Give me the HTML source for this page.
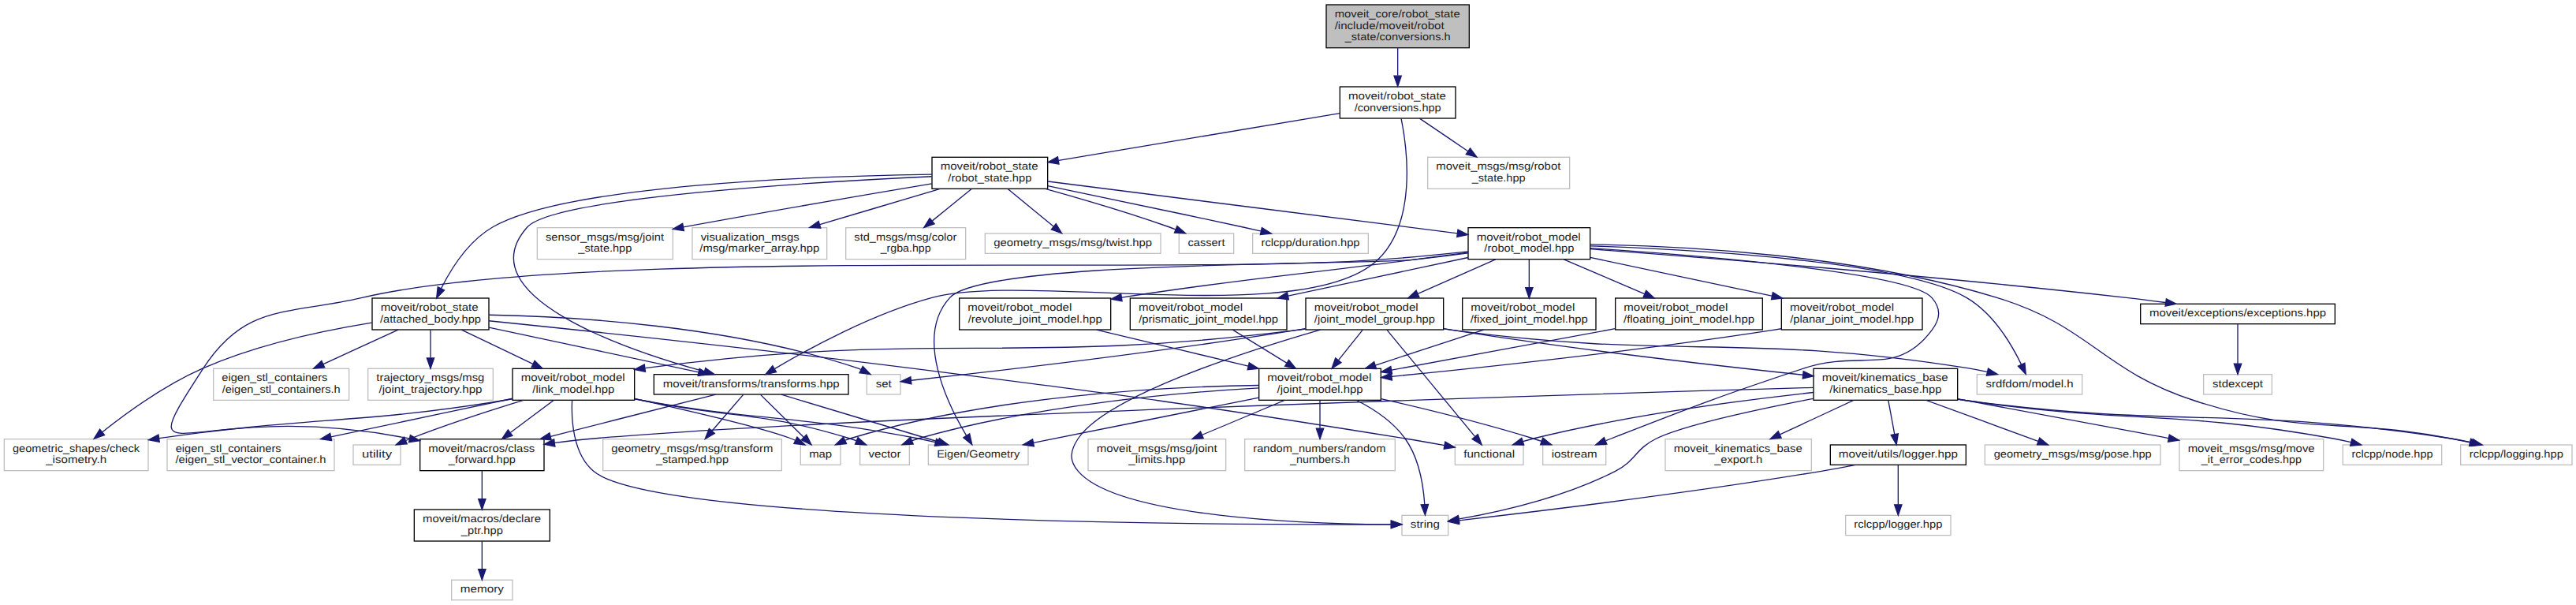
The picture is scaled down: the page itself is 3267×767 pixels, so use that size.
<!DOCTYPE html>
<html><head><meta charset="utf-8"><title>moveit_core/robot_state/include/moveit/robot_state/conversions.h</title>
<style>
html,body{margin:0;padding:0;background:#ffffff;width:3267px;height:767px;overflow:hidden}
svg{display:block}
text{font-family:"Liberation Sans",sans-serif;font-size:10.1px;fill:#222222;text-rendering:geometricPrecision}

rect.k{fill:#ffffff;stroke:#000000}
rect.g{fill:#ffffff;stroke:#bfbfbf}
rect.root{fill:#bfbfbf;stroke:#000000}
path{fill:none;stroke:#191970}
polygon{fill:#191970;stroke:#191970}
</style></head><body>
<svg width="3267" height="767" viewBox="0 0 2450.25 575.25">
<g transform="translate(4 571)">
<rect class="root" x="1257.5" y="-566.5" width="136" height="41"/>
<text x="1265.5" y="-554.5" textLength="119.25" lengthAdjust="spacingAndGlyphs">moveit_core/robot_state</text>
<text x="1265.5" y="-543.5" textLength="104.25" lengthAdjust="spacingAndGlyphs">/include/moveit/robot</text>
<text x="1325.5" y="-532.5" textLength="100.50" lengthAdjust="spacingAndGlyphs" text-anchor="middle">_state/conversions.h</text>
<rect class="k" x="1270.5" y="-488.5" width="110" height="30"/>
<text x="1278.5" y="-476.5" textLength="93.00" lengthAdjust="spacingAndGlyphs">moveit/robot_state</text>
<text x="1325.5" y="-465.5" textLength="82.50" lengthAdjust="spacingAndGlyphs" text-anchor="middle">/conversions.hpp</text>
<path d="M1325.5,-525.36C1325.5,-517.23 1325.5,-507.7 1325.5,-499.11"/>
<polygon points="1329,-498.89 1325.5,-488.89 1322,-498.89 1329,-498.89"/>
<rect class="k" x="882.5" y="-421.5" width="110" height="30"/>
<text x="890.5" y="-409.5" textLength="93.00" lengthAdjust="spacingAndGlyphs">moveit/robot_state</text>
<text x="937.5" y="-398.5" textLength="79.50" lengthAdjust="spacingAndGlyphs" text-anchor="middle">/robot_state.hpp</text>
<path d="M1270.32,-463.26C1199.88,-451.46 1078.18,-431.07 1003.08,-418.49"/>
<polygon points="1003.24,-414.96 992.8,-416.76 1002.09,-421.87 1003.24,-414.96"/>
<rect class="k" x="618" y="-215" width="185" height="19"/>
<text x="710.5" y="-203" textLength="168.00" lengthAdjust="spacingAndGlyphs" text-anchor="middle">moveit/transforms/transforms.hpp</text>
<path d="M1328.83,-458.12C1334.79,-428.27 1343.47,-359.43 1306.5,-324 1238.23,-258.57 973.79,-312.64 882.5,-288 825.83,-272.71 765,-239.4 733.06,-220.44"/>
<polygon points="734.48,-217.21 724.11,-215.05 730.87,-223.21 734.48,-217.21"/>
<rect class="g" x="1354" y="-421.5" width="135" height="30"/>
<text x="1362" y="-409.5" textLength="118.50" lengthAdjust="spacingAndGlyphs">moveit_msgs/msg/robot</text>
<text x="1421.5" y="-398.5" textLength="51.00" lengthAdjust="spacingAndGlyphs" text-anchor="middle">_state.hpp</text>
<path d="M1346.33,-458.4C1359.79,-449.28 1377.5,-437.29 1392.35,-427.24"/>
<polygon points="1394.39,-430.08 1400.71,-421.58 1390.47,-424.28 1394.39,-430.08"/>
<rect class="k" x="1392.5" y="-354.5" width="116" height="30"/>
<text x="1400.5" y="-342.5" textLength="99.00" lengthAdjust="spacingAndGlyphs">moveit/robot_model</text>
<text x="1450.5" y="-331.5" textLength="85.50" lengthAdjust="spacingAndGlyphs" text-anchor="middle">/robot_model.hpp</text>
<path d="M992.89,-398.48C1087.41,-386.51 1279.6,-362.15 1382.25,-349.15"/>
<polygon points="1382.72,-352.62 1392.21,-347.89 1381.84,-345.67 1382.72,-352.62"/>
<rect class="k" x="350" y="-287.5" width="111" height="30"/>
<text x="358" y="-275.5" textLength="93.00" lengthAdjust="spacingAndGlyphs">moveit/robot_state</text>
<text x="405.5" y="-264.5" textLength="96.00" lengthAdjust="spacingAndGlyphs" text-anchor="middle">/attached_body.hpp</text>
<path d="M882.44,-405.15C773.36,-403.58 534.34,-395.48 464.5,-355 441.72,-341.8 425.31,-315.89 415.67,-296.81"/>
<polygon points="418.72,-295.08 411.25,-287.56 412.4,-298.1 418.72,-295.08"/>
<path d="M882.18,-403.19C769.68,-397.93 522.7,-383.26 497.5,-355 440.07,-290.6 587.59,-239.49 665.69,-217.79"/>
<polygon points="667.04,-221.05 675.77,-215.05 665.2,-214.3 667.04,-221.05"/>
<rect class="g" x="507" y="-354.5" width="129" height="30"/>
<text x="515" y="-342.5" textLength="112.50" lengthAdjust="spacingAndGlyphs">sensor_msgs/msg/joint</text>
<text x="571.5" y="-331.5" textLength="51.00" lengthAdjust="spacingAndGlyphs" text-anchor="middle">_state.hpp</text>
<path d="M882.27,-396.32C825.63,-386.83 734.71,-371.35 646.02,-355.07"/>
<polygon points="646.53,-351.61 636.06,-353.24 645.26,-358.49 646.53,-351.61"/>
<rect class="g" x="654.5" y="-354.5" width="128" height="30"/>
<text x="662.5" y="-342.5" textLength="93.75" lengthAdjust="spacingAndGlyphs">visualization_msgs</text>
<text x="718.5" y="-331.5" textLength="114.00" lengthAdjust="spacingAndGlyphs" text-anchor="middle">/msg/marker_array.hpp</text>
<path d="M890.25,-391.48C856.69,-381.51 811.44,-368.09 775.82,-357.51"/>
<polygon points="776.63,-354.1 766.04,-354.61 774.63,-360.81 776.63,-354.1"/>
<rect class="g" x="800.5" y="-354.5" width="114" height="30"/>
<text x="808.5" y="-342.5" textLength="97.50" lengthAdjust="spacingAndGlyphs">std_msgs/msg/color</text>
<text x="857.5" y="-331.5" textLength="48.00" lengthAdjust="spacingAndGlyphs" text-anchor="middle">_rgba.hpp</text>
<path d="M920.14,-391.4C909.24,-382.54 894.99,-370.96 882.84,-361.09"/>
<polygon points="884.79,-358.17 874.82,-354.58 880.38,-363.6 884.79,-358.17"/>
<rect class="g" x="933" y="-349" width="167" height="19"/>
<text x="1016.5" y="-337" textLength="150.75" lengthAdjust="spacingAndGlyphs" text-anchor="middle">geometry_msgs/msg/twist.hpp</text>
<path d="M954.64,-391.4C967.45,-380.86 984.93,-366.48 998.04,-355.69"/>
<polygon points="1000.43,-358.25 1005.93,-349.19 995.99,-352.85 1000.43,-358.25"/>
<rect class="g" x="1117.5" y="-349" width="52" height="19"/>
<text x="1143.5" y="-337" textLength="35.25" lengthAdjust="spacingAndGlyphs" text-anchor="middle">cassert</text>
<path d="M990.35,-391.45C1024.38,-382.02 1069.39,-368.83 1108.5,-355 1110.36,-354.34 1112.27,-353.64 1114.18,-352.91"/>
<polygon points="1115.65,-356.09 1123.65,-349.15 1113.07,-349.59 1115.65,-356.09"/>
<rect class="g" x="1187.5" y="-349" width="110" height="19"/>
<text x="1242.5" y="-337" textLength="93.75" lengthAdjust="spacingAndGlyphs" text-anchor="middle">rclcpp/duration.hpp</text>
<path d="M992.59,-394.22C1041.47,-384.15 1114.8,-368.89 1178.5,-355 1183.93,-353.82 1189.61,-352.56 1195.25,-351.3"/>
<polygon points="1196.31,-354.65 1205.3,-349.04 1194.77,-347.82 1196.31,-354.65"/>
<rect class="k" x="395.5" y="-153.5" width="118" height="30"/>
<text x="403.5" y="-141.5" textLength="101.25" lengthAdjust="spacingAndGlyphs">moveit/macros/class</text>
<text x="454.5" y="-130.5" textLength="63.75" lengthAdjust="spacingAndGlyphs" text-anchor="middle">_forward.hpp</text>
<path d="M1392.42,-331.81C1366.2,-329.01 1334.83,-325.95 1306.5,-324 1092.19,-309.23 549.78,-336.44 340.5,-288 268.97,-271.45 229.53,-282.55 189.5,-221 114.29,-105.34 176.88,-195.07 385.5,-154 385.6,-153.98 385.7,-153.96 385.8,-153.94"/>
<polygon points="386.3,-157.41 395.43,-152.02 384.93,-150.55 386.3,-157.41"/>
<rect class="k" x="2032" y="-282" width="185" height="19"/>
<text x="2124.5" y="-270" textLength="168.00" lengthAdjust="spacingAndGlyphs" text-anchor="middle">moveit/exceptions/exceptions.hpp</text>
<path d="M1508.65,-334.24C1611.58,-326.5 1832.57,-308.97 2018.5,-288 2030.54,-286.64 2043.33,-285.03 2055.7,-283.39"/>
<polygon points="2056.52,-286.81 2065.97,-282.01 2055.59,-279.88 2056.52,-286.81"/>
<rect class="g" x="1876.5" y="-215" width="100" height="19"/>
<text x="1926.5" y="-203" textLength="83.25" lengthAdjust="spacingAndGlyphs" text-anchor="middle">srdfdom/model.h</text>
<path d="M1508.87,-337.06C1608.68,-333.67 1807.13,-322.67 1866.5,-288 1891.58,-273.36 1909.29,-243.65 1918.69,-224.43"/>
<polygon points="1921.92,-225.78 1922.94,-215.23 1915.57,-222.84 1921.92,-225.78"/>
<rect class="k" x="1238" y="-287.5" width="131" height="30"/>
<text x="1246" y="-275.5" textLength="99.00" lengthAdjust="spacingAndGlyphs">moveit/robot_model</text>
<text x="1303.5" y="-264.5" textLength="114.75" lengthAdjust="spacingAndGlyphs" text-anchor="middle">/joint_model_group.hpp</text>
<path d="M1418.6,-324.4C1396.93,-314.81 1368.07,-302.05 1344.66,-291.7"/>
<polygon points="1345.9,-288.42 1335.33,-287.58 1343.06,-294.82 1345.9,-288.42"/>
<rect class="g" x="1463.5" y="-148" width="60" height="19"/>
<text x="1493.5" y="-136" textLength="43.50" lengthAdjust="spacingAndGlyphs" text-anchor="middle">iostream</text>
<path d="M1508.75,-334.99C1610.64,-328.25 1812.44,-312.02 1833.5,-288 1842.58,-277.64 1841.74,-268.04 1833.5,-257 1799.96,-212.02 1765.77,-238.61 1712.5,-221 1629.87,-193.69 1609.61,-185.55 1528.5,-154 1526.86,-153.36 1525.17,-152.7 1523.48,-152.02"/>
<polygon points="1524.38,-148.61 1513.8,-148.08 1521.74,-155.09 1524.38,-148.61"/>
<rect class="g" x="879" y="-148" width="95" height="19"/>
<text x="926.5" y="-136" textLength="78.75" lengthAdjust="spacingAndGlyphs" text-anchor="middle">Eigen/Geometry</text>
<path d="M1392.38,-330.37C1375.36,-328.13 1356.7,-325.83 1339.5,-324 1290.72,-318.82 932.74,-324.07 899.5,-288 865.85,-251.49 896.81,-187.66 915.17,-156.97"/>
<polygon points="918.28,-158.58 920.59,-148.24 912.34,-154.89 918.28,-158.58"/>
<rect class="g" x="2336.5" y="-148" width="106" height="19"/>
<text x="2389.5" y="-136" textLength="89.25" lengthAdjust="spacingAndGlyphs" text-anchor="middle">rclcpp/logging.hpp</text>
<path d="M1508.77,-338.62C1595.11,-337.31 1761.29,-329.04 1895.5,-288 1985.61,-260.45 1993.87,-219.06 2083.5,-190 2187.78,-156.19 2219.82,-174.5 2327.5,-154 2333.27,-152.9 2339.32,-151.63 2345.29,-150.31"/>
<polygon points="2346.2,-153.7 2355.17,-148.07 2344.65,-146.87 2346.2,-153.7"/>
<rect class="k" x="1387" y="-287.5" width="127" height="30"/>
<text x="1395" y="-275.5" textLength="99.00" lengthAdjust="spacingAndGlyphs">moveit/robot_model</text>
<text x="1450.5" y="-264.5" textLength="111.75" lengthAdjust="spacingAndGlyphs" text-anchor="middle">/fixed_joint_model.hpp</text>
<path d="M1450.5,-324.4C1450.5,-316.64 1450.5,-306.81 1450.5,-297.86"/>
<polygon points="1454,-297.58 1450.5,-287.58 1447,-297.58 1454,-297.58"/>
<rect class="k" x="1532.5" y="-287.5" width="140" height="30"/>
<text x="1540.5" y="-275.5" textLength="99.00" lengthAdjust="spacingAndGlyphs">moveit/robot_model</text>
<text x="1602.5" y="-264.5" textLength="124.50" lengthAdjust="spacingAndGlyphs" text-anchor="middle">/floating_joint_model.hpp</text>
<path d="M1483.48,-324.4C1505.99,-314.77 1536,-301.94 1560.26,-291.56"/>
<polygon points="1561.76,-294.73 1569.58,-287.58 1559.01,-288.29 1561.76,-294.73"/>
<rect class="k" x="1690.5" y="-287.5" width="134" height="30"/>
<text x="1698.5" y="-275.5" textLength="99.00" lengthAdjust="spacingAndGlyphs">moveit/robot_model</text>
<text x="1757.5" y="-264.5" textLength="117.75" lengthAdjust="spacingAndGlyphs" text-anchor="middle">/planar_joint_model.hpp</text>
<path d="M1508.61,-326.2C1557.52,-315.84 1627.84,-300.95 1681.26,-289.64"/>
<polygon points="1682.31,-293 1691.37,-287.5 1680.86,-286.15 1682.31,-293"/>
<rect class="k" x="908.5" y="-287.5" width="144" height="30"/>
<text x="916.5" y="-275.5" textLength="99.00" lengthAdjust="spacingAndGlyphs">moveit/robot_model</text>
<text x="980.5" y="-264.5" textLength="127.50" lengthAdjust="spacingAndGlyphs" text-anchor="middle">/revolute_joint_model.hpp</text>
<path d="M1392.32,-330.89C1375.29,-328.66 1356.65,-326.23 1339.5,-324 1219.21,-308.35 1186.35,-307.04 1063.11,-288.21"/>
<polygon points="1063.31,-284.7 1052.89,-286.64 1062.25,-291.62 1063.31,-284.7"/>
<rect class="k" x="1071" y="-287.5" width="149" height="30"/>
<text x="1079" y="-275.5" textLength="99.00" lengthAdjust="spacingAndGlyphs">moveit/robot_model</text>
<text x="1145.5" y="-264.5" textLength="132.75" lengthAdjust="spacingAndGlyphs" text-anchor="middle">/prismatic_joint_model.hpp</text>
<path d="M1392.41,-326.12C1343.86,-315.77 1274.27,-300.94 1221.33,-289.66"/>
<polygon points="1221.82,-286.19 1211.31,-287.53 1220.36,-293.03 1221.82,-286.19"/>
<rect class="k" x="390" y="-86.5" width="129" height="30"/>
<text x="398" y="-74.5" textLength="112.50" lengthAdjust="spacingAndGlyphs">moveit/macros/declare</text>
<text x="454.5" y="-63.5" textLength="39.75" lengthAdjust="spacingAndGlyphs" text-anchor="middle">_ptr.hpp</text>
<path d="M454.5,-123.4C454.5,-115.64 454.5,-105.81 454.5,-96.86"/>
<polygon points="458,-96.58 454.5,-86.58 451,-96.58 458,-96.58"/>
<rect class="g" x="425.5" y="-19.5" width="58" height="19"/>
<text x="454.5" y="-7.5" textLength="41.25" lengthAdjust="spacingAndGlyphs" text-anchor="middle">memory</text>
<path d="M454.5,-56.4C454.5,-48.47 454.5,-38.46 454.5,-29.86"/>
<polygon points="458,-29.66 454.5,-19.66 451,-29.66 458,-29.66"/>
<rect class="g" x="2092" y="-215" width="65" height="19"/>
<text x="2124.5" y="-203" textLength="48.00" lengthAdjust="spacingAndGlyphs" text-anchor="middle">stdexcept</text>
<path d="M2124.5,-262.73C2124.5,-253.18 2124.5,-237.62 2124.5,-225.28"/>
<polygon points="2128,-225.13 2124.5,-215.13 2121,-225.13 2128,-225.13"/>
<path d="M1369.28,-258.33C1372.39,-257.85 1375.48,-257.4 1378.5,-257 1594.52,-228.27 1652.27,-255.12 1867.5,-221 1873.51,-220.05 1879.8,-218.79 1885.95,-217.41"/>
<polygon points="1887.15,-220.72 1896.08,-215.01 1885.54,-213.91 1887.15,-220.72"/>
<rect class="k" x="1193.5" y="-220.5" width="116" height="30"/>
<text x="1201.5" y="-208.5" textLength="99.00" lengthAdjust="spacingAndGlyphs">moveit/robot_model</text>
<text x="1251.5" y="-197.5" textLength="81.75" lengthAdjust="spacingAndGlyphs" text-anchor="middle">/joint_model.hpp</text>
<path d="M1292.22,-257.4C1285.47,-248.96 1276.75,-238.07 1269.12,-228.52"/>
<polygon points="1271.74,-226.2 1262.76,-220.58 1266.28,-230.57 1271.74,-226.2"/>
<rect class="g" x="1329.5" y="-81" width="44" height="19"/>
<text x="1351.5" y="-69" textLength="27.75" lengthAdjust="spacingAndGlyphs" text-anchor="middle">string</text>
<path d="M1251.93,-257.44C1178.07,-236.14 1048.13,-193.94 1021.5,-154 1013.86,-142.54 1012.52,-133.45 1021.5,-123 1059.65,-78.57 1243.17,-72.82 1318.81,-72.36"/>
<polygon points="1319.16,-75.86 1329.15,-72.33 1319.14,-68.86 1319.16,-75.86"/>
<rect class="k" x="483.5" y="-220.5" width="116" height="30"/>
<text x="491.5" y="-208.5" textLength="99.00" lengthAdjust="spacingAndGlyphs">moveit/robot_model</text>
<text x="541.5" y="-197.5" textLength="78.00" lengthAdjust="spacingAndGlyphs" text-anchor="middle">/link_model.hpp</text>
<path d="M1237.73,-258.27C1234.61,-257.81 1231.53,-257.38 1228.5,-257 957.96,-223.15 883.79,-257.45 609.76,-221.01"/>
<polygon points="609.89,-217.5 599.51,-219.63 608.95,-224.44 609.89,-217.5"/>
<rect class="k" x="1721" y="-220.5" width="137" height="30"/>
<text x="1729" y="-208.5" textLength="120.00" lengthAdjust="spacingAndGlyphs">moveit/kinematics_base</text>
<text x="1789.5" y="-197.5" textLength="106.50" lengthAdjust="spacingAndGlyphs" text-anchor="middle">/kinematics_base.hpp</text>
<path d="M1369.31,-258.51C1372.41,-257.98 1375.49,-257.48 1378.5,-257 1493.7,-238.81 1627.95,-223.39 1710.84,-214.54"/>
<polygon points="1711.37,-218 1720.94,-213.47 1710.63,-211.04 1711.37,-218"/>
<rect class="g" x="1380" y="-148" width="65" height="19"/>
<text x="1412.5" y="-136" textLength="48.75" lengthAdjust="spacingAndGlyphs" text-anchor="middle">functional</text>
<path d="M1315.16,-257.37C1335.49,-232.76 1377.3,-182.12 1398.91,-155.96"/>
<polygon points="1401.73,-158.04 1405.4,-148.1 1396.33,-153.58 1401.73,-158.04"/>
<rect class="g" x="820.5" y="-215" width="32" height="19"/>
<text x="836.5" y="-203" textLength="15.00" lengthAdjust="spacingAndGlyphs" text-anchor="middle">set</text>
<path d="M1237.69,-258.53C1234.59,-258 1231.51,-257.48 1228.5,-257 1091.41,-234.94 926.13,-216.2 862.87,-209.32"/>
<polygon points="862.93,-205.8 852.61,-208.21 862.17,-212.76 862.93,-205.8"/>
<path d="M1286.4,-190.37C1302.71,-182.08 1321.02,-170.04 1332.5,-154 1345.75,-135.49 1349.9,-109.11 1351.12,-91.42"/>
<polygon points="1354.63,-91.37 1351.57,-81.23 1347.63,-91.07 1354.63,-91.37"/>
<rect class="g" x="814" y="-148" width="47" height="19"/>
<text x="837.5" y="-136" textLength="30.75" lengthAdjust="spacingAndGlyphs" text-anchor="middle">vector</text>
<path d="M1193.48,-202.12C1117.67,-197.83 981.42,-185.99 869.5,-154 867.56,-153.45 865.6,-152.8 863.64,-152.08"/>
<polygon points="864.67,-148.72 854.09,-148.13 861.99,-155.19 864.67,-148.72"/>
<rect class="g" x="757.5" y="-148" width="38" height="19"/>
<text x="776.5" y="-136" textLength="21.75" lengthAdjust="spacingAndGlyphs" text-anchor="middle">map</text>
<path d="M1193.35,-204.62C1106.73,-203.32 939.56,-195.06 804.5,-154 803.03,-153.55 801.54,-153.03 800.06,-152.45"/>
<polygon points="801.15,-149.1 790.61,-148.08 798.21,-155.45 801.15,-149.1"/>
<path d="M1309.73,-191.84C1350.57,-182.52 1406.27,-168.91 1454.5,-154 1457.06,-153.21 1459.71,-152.34 1462.35,-151.43"/>
<polygon points="1463.54,-154.72 1471.78,-148.06 1461.19,-148.13 1463.54,-154.72"/>
<rect class="g" x="1031" y="-153.5" width="131" height="30"/>
<text x="1039" y="-141.5" textLength="114.75" lengthAdjust="spacingAndGlyphs">moveit_msgs/msg/joint</text>
<text x="1096.5" y="-130.5" textLength="54.00" lengthAdjust="spacingAndGlyphs" text-anchor="middle">_limits.hpp</text>
<path d="M1217.87,-190.4C1194.92,-180.77 1164.31,-167.94 1139.58,-157.56"/>
<polygon points="1140.64,-154.22 1130.07,-153.58 1137.94,-160.67 1140.64,-154.22"/>
<rect class="g" x="1180" y="-153.5" width="143" height="30"/>
<text x="1188" y="-141.5" textLength="126.00" lengthAdjust="spacingAndGlyphs">random_numbers/random</text>
<text x="1251.5" y="-130.5" textLength="57.00" lengthAdjust="spacingAndGlyphs" text-anchor="middle">_numbers.h</text>
<path d="M1251.5,-190.4C1251.5,-182.64 1251.5,-172.81 1251.5,-163.86"/>
<polygon points="1255,-163.58 1251.5,-153.58 1248,-163.58 1255,-163.58"/>
<path d="M1193.4,-192.88C1132.47,-180.69 1037.59,-161.72 978.89,-149.98"/>
<polygon points="979.58,-146.55 969.08,-148.02 978.2,-153.41 979.58,-146.55"/>
<path d="M522.62,-190.4C510.65,-181.45 494.97,-169.74 481.67,-159.8"/>
<polygon points="483.45,-156.76 473.34,-153.58 479.26,-162.37 483.45,-156.76"/>
<path d="M540.19,-190.44C539.32,-171.85 540.99,-139.53 560.5,-123 619.15,-73.32 1177.95,-71.89 1319.19,-72.33"/>
<polygon points="1319.35,-75.83 1329.37,-72.37 1319.38,-68.83 1319.35,-75.83"/>
<path d="M599.58,-191.81C602.6,-191.19 605.58,-190.58 608.5,-190 695.35,-172.63 719.83,-179.99 804.5,-154 806.43,-153.41 808.4,-152.73 810.36,-152.01"/>
<polygon points="812.03,-155.11 819.98,-148.1 809.39,-148.62 812.03,-155.11"/>
<path d="M599.71,-191.93C650.98,-180.56 721.57,-164.09 748.5,-154 749.74,-153.54 751,-153.03 752.25,-152.49"/>
<polygon points="754.16,-155.46 761.69,-148 751.15,-149.14 754.16,-155.46"/>
<path d="M599.55,-191.65C602.57,-191.07 605.57,-190.52 608.5,-190 723.81,-169.6 754.58,-176.47 869.5,-154 874.69,-152.99 880.11,-151.79 885.46,-150.52"/>
<polygon points="886.7,-153.82 895.58,-148.04 885.03,-147.02 886.7,-153.82"/>
<rect class="g" x="332" y="-148" width="45" height="19"/>
<text x="354.5" y="-136" textLength="28.50" lengthAdjust="spacingAndGlyphs" text-anchor="middle">utility</text>
<path d="M493.88,-190.48C462.97,-181.01 421.99,-167.77 386.5,-154 385.08,-153.45 383.63,-152.87 382.17,-152.26"/>
<polygon points="383.2,-148.89 372.63,-148.13 380.41,-155.32 383.2,-148.89"/>
<rect class="g" x="0" y="-153.5" width="137" height="30"/>
<text x="8" y="-141.5" textLength="120.75" lengthAdjust="spacingAndGlyphs">geometric_shapes/check</text>
<text x="68.5" y="-130.5" textLength="57.75" lengthAdjust="spacingAndGlyphs" text-anchor="middle">_isometry.h</text>
<path d="M483.33,-191.69C480.01,-191.09 476.72,-190.52 473.5,-190 331.97,-167.2 292.32,-175.2 147.46,-154.22"/>
<polygon points="147.71,-150.72 137.3,-152.73 146.69,-157.64 147.71,-150.72"/>
<rect class="g" x="155" y="-153.5" width="159" height="30"/>
<text x="163" y="-141.5" textLength="100.50" lengthAdjust="spacingAndGlyphs">eigen_stl_containers</text>
<text x="234.5" y="-130.5" textLength="143.25" lengthAdjust="spacingAndGlyphs" text-anchor="middle">/eigen_stl_vector_container.h</text>
<path d="M483.26,-192.07C479.96,-191.37 476.69,-190.68 473.5,-190 419.08,-178.45 357.69,-165.48 310.75,-155.57"/>
<polygon points="311.46,-152.15 300.96,-153.51 310.02,-159 311.46,-152.15"/>
<path d="M1720.67,-202.53C1496.47,-195.99 788.5,-174.23 560.5,-154 548.58,-152.94 535.94,-151.5 523.7,-149.93"/>
<polygon points="523.91,-146.43 513.54,-148.59 522.99,-153.37 523.91,-146.43"/>
<path d="M1720.74,-192C1667.14,-181.62 1597.57,-166.58 1571.5,-154 1551.56,-144.38 1552.22,-133.06 1532.5,-123 1483.84,-98.17 1421.38,-84.21 1384.01,-77.53"/>
<polygon points="1384.16,-74.01 1373.71,-75.76 1382.97,-80.91 1384.16,-74.01"/>
<rect class="g" x="1884" y="-148" width="167" height="19"/>
<text x="1967.5" y="-136" textLength="150.00" lengthAdjust="spacingAndGlyphs" text-anchor="middle">geometry_msgs/msg/pose.hpp</text>
<path d="M1828.12,-190.4C1859.91,-178.79 1904.48,-162.51 1934.59,-151.52"/>
<polygon points="1936.01,-154.72 1944.2,-148.01 1933.61,-148.15 1936.01,-154.72"/>
<rect class="g" x="2069" y="-153.5" width="137" height="30"/>
<text x="2077" y="-141.5" textLength="120.75" lengthAdjust="spacingAndGlyphs">moveit_msgs/msg/move</text>
<text x="2137.5" y="-130.5" textLength="95.25" lengthAdjust="spacingAndGlyphs" text-anchor="middle">_it_error_codes.hpp</text>
<path d="M1858,-191.77C1910.44,-182.02 1984.86,-168.16 2058.71,-154.33"/>
<polygon points="2059.47,-157.75 2068.65,-152.47 2058.18,-150.87 2059.47,-157.75"/>
<path d="M1858.34,-191.29C1861.43,-190.83 1864.5,-190.4 1867.5,-190 2070.81,-163.22 2124.85,-185.44 2327.5,-154 2333.88,-153.01 2340.58,-151.72 2347.11,-150.31"/>
<polygon points="2348.2,-153.65 2357.18,-148.04 2346.66,-146.83 2348.2,-153.65"/>
<rect class="g" x="2224.5" y="-148" width="94" height="19"/>
<text x="2271.5" y="-136" textLength="77.25" lengthAdjust="spacingAndGlyphs" text-anchor="middle">rclcpp/node.hpp</text>
<path d="M1858.35,-191.39C1861.44,-190.9 1864.5,-190.43 1867.5,-190 2021.4,-167.77 2062.47,-181.57 2215.5,-154 2220.94,-153.02 2226.62,-151.79 2232.2,-150.47"/>
<polygon points="2233.18,-153.83 2242.04,-148.01 2231.49,-147.04 2233.18,-153.83"/>
<path d="M1720.78,-197.86C1652.55,-190.4 1545.32,-176.32 1454.5,-154 1451.28,-153.21 1447.95,-152.27 1444.65,-151.27"/>
<polygon points="1445.53,-147.87 1434.94,-148.1 1443.36,-154.53 1445.53,-147.87"/>
<rect class="g" x="1580" y="-153.5" width="139" height="30"/>
<text x="1588" y="-141.5" textLength="122.25" lengthAdjust="spacingAndGlyphs">moveit_kinematics_base</text>
<text x="1649.5" y="-130.5" textLength="45.75" lengthAdjust="spacingAndGlyphs" text-anchor="middle">_export.h</text>
<path d="M1759.12,-190.4C1738.57,-180.86 1711.24,-168.16 1689,-157.84"/>
<polygon points="1690.36,-154.61 1679.82,-153.58 1687.41,-160.96 1690.36,-154.61"/>
<rect class="k" x="1737" y="-148" width="129" height="19"/>
<text x="1801.5" y="-136" textLength="113.25" lengthAdjust="spacingAndGlyphs" text-anchor="middle">moveit/utils/logger.hpp</text>
<path d="M1792.1,-190.4C1793.85,-180.96 1796.16,-168.45 1798.05,-158.19"/>
<polygon points="1801.52,-158.66 1799.89,-148.19 1794.64,-157.39 1801.52,-158.66"/>
<path d="M1761.04,-128.99C1750.47,-126.9 1739.08,-124.76 1728.5,-123 1601.38,-101.88 1449.01,-83.62 1383.74,-76.13"/>
<polygon points="1384,-72.63 1373.67,-74.98 1383.21,-79.59 1384,-72.63"/>
<rect class="g" x="1751.5" y="-81" width="100" height="19"/>
<text x="1801.5" y="-69" textLength="84.00" lengthAdjust="spacingAndGlyphs" text-anchor="middle">rclcpp/logger.hpp</text>
<path d="M1801.5,-128.73C1801.5,-119.18 1801.5,-103.62 1801.5,-91.28"/>
<polygon points="1805,-91.13 1801.5,-81.13 1798,-91.13 1805,-91.13"/>
<path d="M1407.32,-257.4C1377.07,-247.52 1336.47,-234.25 1304.29,-223.74"/>
<polygon points="1305.19,-220.35 1294.6,-220.58 1303.01,-227.01 1305.19,-220.35"/>
<path d="M1532.31,-258.5C1470.44,-247.04 1380.85,-230.45 1319.61,-219.11"/>
<polygon points="1320.12,-215.65 1309.65,-217.27 1318.85,-222.53 1320.12,-215.65"/>
<path d="M1690.41,-258.43C1687.4,-257.93 1684.42,-257.45 1681.5,-257 1554.25,-237.41 1404.78,-221.43 1319.79,-213"/>
<polygon points="1320.05,-209.5 1309.75,-212 1319.36,-216.47 1320.05,-209.5"/>
<path d="M1038.97,-257.48C1081.35,-247.31 1138.8,-233.53 1183.28,-222.86"/>
<polygon points="1184.23,-226.23 1193.14,-220.5 1182.59,-219.43 1184.23,-226.23"/>
<path d="M1168.5,-257.4C1183.5,-248.2 1203.29,-236.07 1219.77,-225.95"/>
<polygon points="1221.85,-228.79 1228.54,-220.58 1218.19,-222.82 1221.85,-228.79"/>
<path d="M435.01,-257.4C454.88,-247.9 481.29,-235.28 502.84,-224.98"/>
<polygon points="504.53,-228.05 512.05,-220.58 501.52,-221.73 504.53,-228.05"/>
<path d="M349.59,-264.14C304.91,-256.92 241.39,-243.63 189.5,-221 153.52,-205.31 116.76,-178.75 93.35,-160.23"/>
<polygon points="95.34,-157.34 85.36,-153.81 90.96,-162.8 95.34,-157.34"/>
<path d="M461.02,-265.91C546.94,-257.14 717.29,-239.24 861.5,-221 1071.27,-194.47 1123.77,-187.75 1332.5,-154 1344.69,-152.03 1357.9,-149.71 1370,-147.51"/>
<polygon points="1370.65,-150.95 1379.85,-145.71 1369.39,-144.07 1370.65,-150.95"/>
<path d="M461.23,-271.54C540.94,-270.06 691.17,-261.5 811.5,-221 812.57,-220.64 813.64,-220.23 814.72,-219.78"/>
<polygon points="816.67,-222.72 824,-215.07 813.5,-216.48 816.67,-222.72"/>
<path d="M461.09,-259.65C518.02,-247.52 605.74,-228.83 660.54,-217.15"/>
<polygon points="661.32,-220.56 670.37,-215.05 659.86,-213.71 661.32,-220.56"/>
<rect class="g" x="199" y="-220.5" width="129" height="30"/>
<text x="207" y="-208.5" textLength="100.50" lengthAdjust="spacingAndGlyphs">eigen_stl_containers</text>
<text x="263.5" y="-197.5" textLength="112.50" lengthAdjust="spacingAndGlyphs" text-anchor="middle">/eigen_stl_containers.h</text>
<path d="M374.69,-257.4C353.85,-247.86 326.12,-235.16 303.57,-224.84"/>
<polygon points="304.8,-221.56 294.25,-220.58 301.89,-227.92 304.8,-221.56"/>
<rect class="g" x="346" y="-220.5" width="119" height="30"/>
<text x="354" y="-208.5" textLength="102.75" lengthAdjust="spacingAndGlyphs">trajectory_msgs/msg</text>
<text x="405.5" y="-197.5" textLength="98.25" lengthAdjust="spacingAndGlyphs" text-anchor="middle">/joint_trajectory.hpp</text>
<path d="M405.5,-257.4C405.5,-249.64 405.5,-239.81 405.5,-230.86"/>
<polygon points="409,-230.58 405.5,-220.58 402,-230.58 409,-230.58"/>
<path d="M676.77,-195.94C636.93,-185.82 569.75,-168.76 519.65,-156.04"/>
<polygon points="520.43,-152.63 509.87,-153.56 518.7,-159.41 520.43,-152.63"/>
<path d="M719.4,-195.73C729.89,-185.4 747.52,-168.04 760.42,-155.33"/>
<polygon points="763.07,-157.64 767.74,-148.13 758.16,-152.65 763.07,-157.64"/>
<path d="M739.18,-195.87C777.54,-184.33 845.63,-163.84 888.3,-151"/>
<polygon points="889.48,-154.3 898.04,-148.06 887.46,-147.59 889.48,-154.3"/>
<rect class="g" x="569.5" y="-153.5" width="170" height="30"/>
<text x="577.5" y="-141.5" textLength="153.75" lengthAdjust="spacingAndGlyphs">geometry_msgs/msg/transform</text>
<text x="654.5" y="-130.5" textLength="69.00" lengthAdjust="spacingAndGlyphs" text-anchor="middle">_stamped.hpp</text>
<path d="M702.95,-195.73C695.38,-186.95 683.43,-173.08 673.29,-161.31"/>
<polygon points="675.82,-158.88 666.64,-153.59 670.51,-163.45 675.82,-158.88"/>
</g></svg></body></html>
